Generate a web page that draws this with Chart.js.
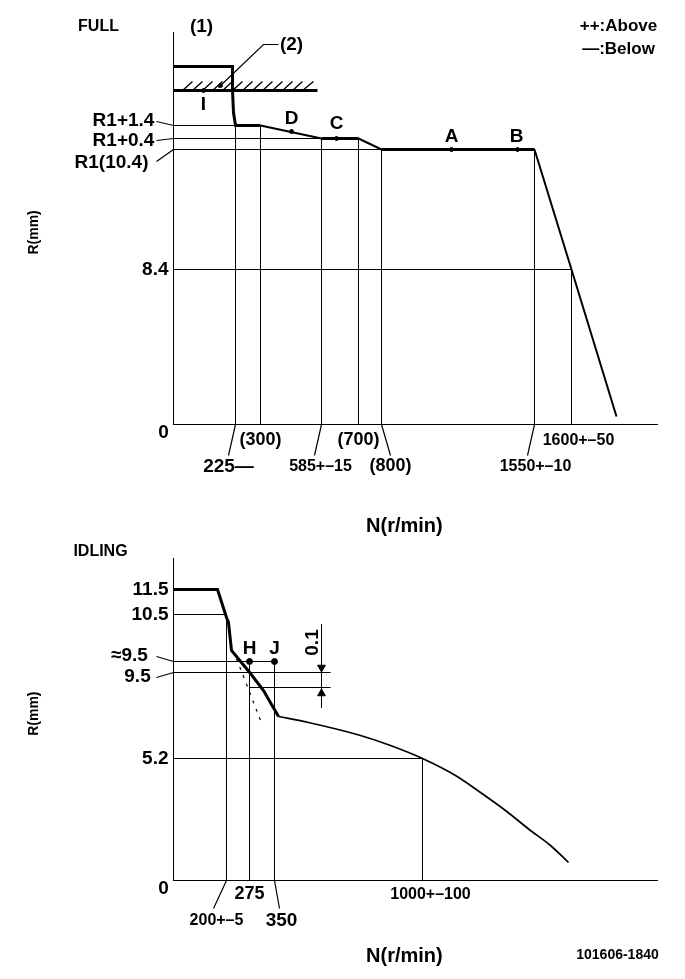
<!DOCTYPE html>
<html><head><meta charset="utf-8">
<style>html,body{margin:0;padding:0;background:#fff}canvas{position:absolute;left:0}</style>
<script src="https://cdn.jsdelivr.net/npm/chart.js@4"></script>
</head><body>
<canvas id="full" width="685" height="538" style="top:0"></canvas>
<canvas id="idling" width="685" height="449" style="top:530px"></canvas>
<script>
// Both diagrams are schematic (not to scale), so values are read in diagram units along each axis.
const fullCurveX=[0,59,59,60,62,87,148,185,208,361,398,443];
const fullCurveY=[358,358,334,312,299,299,286,286,275,275,155,8];
const fullStopX=[0,144];
const fullStopY=[334,334];
const fullHatchX=[9,19,null,19,29,null,29,39,null,39,49,null,49,59,null,59,69,null,69,79,null,79,89,null,89,99,null,99,109,null,109,119,null,119,129,null,129,140];
const fullHatchY=[334,343,null,334,343,null,334,343,null,334,343,null,334,343,null,334,343,null,334,343,null,334,343,null,334,343,null,334,343,null,334,343,null,334,343,null,334,343];
const fullGuideX=[0,62,null,0,148,null,0,208,null,0,398,null,62,62,null,87,87,null,148,148,null,185,185,null,208,208,null,361,361,null,398,398];
const fullGuideY=[299,299,null,286,286,null,275,275,null,155,155,null,299,0,null,299,0,null,286,0,null,286,0,null,275,0,null,275,0,null,155,0];
const fullLeaderX=[45,90,105,null,-17,0,null,-17,0,null,-17,0,null,62,55,null,148,141,null,208,217,null,361,354];
const fullLeaderY=[337,380,380,null,303,299,null,284,286,null,263,275,null,0,-31,null,0,-31,null,0,-31,null,0,-31];
const fullPointNames=['I','(2)','D','C','A','B'];
const fullPointX=[30,47,118,163,278,344];
const fullPointY=[334,339,293,286,275,275];
const fullYTicks=[155];
const fullYTickLabels=['8.4'];
const fullXTicks=[87,185];
const fullXTickLabels=['(300)','(700)'];
const fullNotes=['FULL','(1)','(2)','I','D','C','A','B','R1+1.4','R1+0.4','R1(10.4)','0','1600+–50','225—','585+–15','(800)','1550+–10','++:Above','—:Below'];
const fullNoteX=[-75,28,118,30,118,163,278,343,-50,-50,-62,-10,405,55,147,217,362,445,445];
const fullNoteY=[398,398,380,320,306,301,288,288,304,284,262,-8,-16,-42,-42,-42,-42,398,375];

const idleCurveX=[0,44,53,55,58,77,90,105];
const idleCurveY=[291,291,263,258,230,207,190,164];
const idleDroopX=[105,135,187,217,249,282,307,332,357,377,395];
const idleDroopY=[164,158,145,135,122,105,88,70,50,35,18];
const idleDashX=[63,89];
const idleDashY=[222,155];
const idleGuideX=[0,53,null,0,101,null,0,157,null,76,157,null,0,249,null,53,53,null,76,76,null,101,101,null,249,249,null,148,148];
const idleGuideY=[266,266,null,219,219,null,208,208,null,193,193,null,122,122,null,266,0,null,219,0,null,219,0,null,122,0,null,256,173];
const idleLeaderX=[-17,0,null,-17,0,null,53,40,null,101,106];
const idleLeaderY=[224,219,null,203,208,null,0,-28,null,0,-28];
const idlePointNames=['H','J'];
const idlePointX=[76,101];
const idlePointY=[219,219];
const idleArrowX=[148,148];
const idleArrowY=[213,187];
const idleYTicks=[291,266,122];
const idleYTickLabels=['11.5','10.5','5.2'];
const idleXTicks=[76];
const idleXTickLabels=['275'];
const idleNotes=['IDLING','≈9.5','9.5','H','J','0.1','0','1000+–100','200+–5','350','101606-1840'];
const idleNoteX=[-73,-44,-36,76,101,139,-10,257,43,108,444];
const idleNoteY=[329,225,204,232,232,238,-8,-14,-40,-40,-75];

const FONT='"Liberation Sans",Arial,sans-serif';
const BLACK='#000';
const zip=(xs,ys)=>xs.map((x,i)=>({x,y:ys[i]}));
const thin=(xs,ys,w=1)=>({data:zip(xs,ys),showLine:true,borderColor:BLACK,borderWidth:w,pointRadius:0,spanGaps:false,clip:false,borderCapStyle:'butt'});

const noteSize=t=>{
  if(t==='101606-1840')return 14;
  if(t==='FULL'||t==='IDLING')return 16;
  if(t.includes('+–'))return 16;
  if(t==='++:Above'||t==='—:Below')return 17;
  if(t==='(800)')return 18;
  return 19;
};
const notesPlugin=(notes,xs,ys,rotated)=>({
  id:'notes',
  afterDatasetsDraw(c){
    const g=c.ctx,sx=c.scales.x,sy=c.scales.y;
    g.save();g.fillStyle=BLACK;g.textAlign='center';g.textBaseline='middle';
    notes.forEach((t,i)=>{
      const px=sx.getPixelForValue(xs[i]),py=sy.getPixelForValue(ys[i]);
      g.font='bold '+noteSize(t)+'px '+FONT;
      g.save();g.translate(px,py);
      if(rotated.includes(t))g.rotate(-Math.PI/2);
      g.fillText(t,0,0);g.restore();
    });
    g.restore();
  }
});

function build(id,yMax,datasets,yTicks,yLabels,xTicks,xLabels,notesP,topPad,bottomAt,H,xTitlePad,xTickPad,yTitle){
  return new Chart(document.getElementById(id),{
    type:'scatter',
    data:{datasets},
    plugins:[notesP],
    options:{
      responsive:false,animation:false,devicePixelRatio:1,
      layout:{padding:{top:topPad,right:27.5,left:0,bottom:0}},
      plugins:{legend:{display:false},tooltip:{enabled:false}},
      scales:{
        x:{type:'linear',min:0,max:484,grid:{display:false,drawTicks:false},border:{color:BLACK,width:1},
          afterBuildTicks:s=>{s.ticks=xTicks.map(value=>({value}))},
          afterFit:s=>{s.height=H-bottomAt},
          ticks:{autoSkip:false,maxRotation:0,color:BLACK,padding:xTickPad,font:{family:FONT,size:18,weight:'bold'},
            callback:v=>xLabels[xTicks.indexOf(v)]},
          title:{display:true,text:'N(r/min)\u00a0\u00a0\u00a0\u00a0',color:BLACK,font:{family:FONT,size:20,weight:'bold'},padding:{top:0,bottom:xTitlePad}}},
        y:{type:'linear',min:0,max:yMax,grid:{display:false,drawTicks:false},border:{color:BLACK,width:1},
          afterBuildTicks:s=>{s.ticks=yTicks.map(value=>({value}))},
          afterFit:s=>{s.width=173.5},
          ticks:{autoSkip:false,color:BLACK,padding:5,font:{family:FONT,size:19,weight:'bold'},
            callback:v=>yLabels[yTicks.indexOf(v)]},
          title:{display:true,text:yTitle,color:BLACK,font:{family:FONT,size:14,weight:'bold'},padding:{top:26,bottom:0}}}
      }
    }
  });
}

const fullWidths=[3,3,3,3,3,2,3,2,3,2,2];
build('full',392,[
  {...thin(fullGuideX,fullGuideY)},
  {...thin(fullLeaderX,fullLeaderY,1.2)},
  {...thin(fullHatchX,fullHatchY,1.4)},
  {...thin(fullStopX,fullStopY,3)},
  {data:zip(fullCurveX,fullCurveY),showLine:true,borderColor:BLACK,borderWidth:3,pointRadius:0,clip:false,
    segment:{borderWidth:c=>fullWidths[c.p0DataIndex]}},
  {label:fullPointNames.join(','),data:zip(fullPointX,fullPointY),showLine:false,pointRadius:2,pointBackgroundColor:BLACK,pointBorderColor:BLACK,clip:false}
],fullYTicks,fullYTickLabels,fullXTicks,fullXTickLabels,
  notesPlugin(fullNotes,fullNoteX,fullNoteY,[]),32.5,424.5,538,0,5,'R(mm)\u00a0\u00a0');

build('idling',322,[
  {...thin(idleGuideX,idleGuideY)},
  {...thin(idleLeaderX,idleLeaderY,1.2)},
  {...thin(idleDashX,idleDashY,1.2),borderDash:[3,6]},
  {...thin(idleCurveX,idleCurveY,3)},
  {...thin(idleDroopX,idleDroopY,1.7),cubicInterpolationMode:'monotone'},
  {label:idlePointNames.join(','),data:zip(idlePointX,idlePointY),showLine:false,pointRadius:3,pointBackgroundColor:BLACK,pointBorderColor:BLACK,clip:false},
  {data:zip(idleArrowX,idleArrowY),showLine:false,pointStyle:'triangle',pointRadius:4.5,pointRotation:[180,0],pointBackgroundColor:BLACK,pointBorderColor:BLACK,clip:false}
],idleYTicks,idleYTickLabels,idleXTicks,idleXTickLabels,
  notesPlugin(idleNotes,idleNoteX,idleNoteY,['0.1']),28.5,350.5,449,11,3,'\u00a0\u00a0\u00a0R(mm)');
</script>
</body></html>
